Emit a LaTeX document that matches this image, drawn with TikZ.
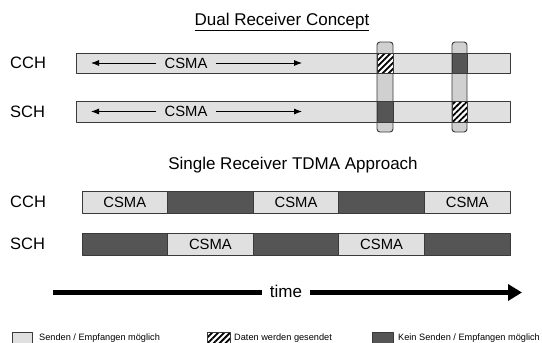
\documentclass[tikz,border=0pt]{standalone}
\usepackage{fontspec}
\setmainfont{Liberation Sans}
\usetikzlibrary{arrows.meta,patterns.meta}

\definecolor{freegray}{HTML}{E0E0E0}
\definecolor{colgray}{HTML}{D0D0D0}
\definecolor{busygray}{HTML}{555555}
\definecolor{edgegray}{HTML}{3A3A3A}

\tikzset{
  chan/.style={draw=edgegray,line width=0.9pt},
  freeslot/.style={chan,fill=freegray},
  busyslot/.style={chan,fill=busygray},
  dataslot/.style={chan,preaction={fill=white},
    pattern={Lines[angle=45,distance=4.2pt,line width=1.8pt]}},
  rxcolumn/.style={chan,fill=colgray,rounded corners=3pt},
  headline/.style={font=\fontsize{17}{20}\selectfont},
  chname/.style={anchor=west,inner sep=0pt,font=\fontsize{16.5}{19}\selectfont},
  csma/.style={inner ysep=0pt,inner xsep=8pt,font=\fontsize{14.8}{17}\selectfont},
  csmaarrow/.style={line width=0.8pt,-{Latex[length=8pt,width=6pt]}},
  timeline/.style={line width=5pt},
  legendtext/.style={anchor=base west,inner sep=0pt,font=\fontsize{9.2}{11}\selectfont}
}

\begin{document}
\begin{tikzpicture}[x=1pt,y=-1pt,line join=round]
  \useasboundingbox (0,0) rectangle (542,343);
  \clip (0,0) rectangle (542,343);

  % dual receiver concept
  \node[headline] (dualtitle) at (282,22) {\underline{Dual Receiver Concept}};
  \node[chname] (dualcch) at (10,63) {CCH};
  \node[chname] (dualsch) at (10,111.5) {SCH};
  \draw[freeslot] (76.5,53) rectangle (510,73);
  \draw[freeslot] (76.5,101) rectangle (510,122);
  \foreach \y/\nm in {63/cch,111.5/sch}{
    \node[csma] (csma\nm) at (186,\y) {CSMA};
    \coordinate (\nm left) at (91,\y);
    \coordinate (\nm right) at (302,\y);
    \draw[csmaarrow] (csma\nm.west) -- (\nm left);
    \draw[csmaarrow] (csma\nm.east) -- (\nm right);
  }
  \draw[rxcolumn] (377,42) rectangle (393,132);
  \draw[rxcolumn] (452,42) rectangle (467,132);
  \draw[dataslot] (377,53) rectangle (393,73);
  \draw[busyslot] (377,101) rectangle (393,122);
  \draw[busyslot] (452,53) rectangle (467,73);
  \draw[dataslot] (452,101) rectangle (467,122);

  % single receiver tdma approach
  \node[headline] (tdmatitle) at (293,165) {Single Receiver TDMA Approach};
  \node[chname] (tdmacch) at (10,202) {CCH};
  \node[chname] (tdmasch) at (10,244) {SCH};
  \foreach \i in {0,...,4}{
    \pgfmathsetmacro\xa{82+85.6*\i}
    \pgfmathsetmacro\xb{\xa+85.6}
    \pgfmathsetmacro\xm{\xa+42.8}
    \ifodd\i
      \draw[busyslot] (\xa,191) rectangle (\xb,213);
      \draw[freeslot] (\xa,233) rectangle (\xb,255);
      \node[csma] (schslot\i) at (\xm,244) {CSMA};
    \else
      \draw[freeslot] (\xa,191) rectangle (\xb,213);
      \draw[busyslot] (\xa,233) rectangle (\xb,255);
      \node[csma] (cchslot\i) at (\xm,202) {CSMA};
    \fi
  }

  % time axis
  \node[headline,inner xsep=7.5pt] (time) at (286,291) {time};
  \coordinate (tstart) at (53,292.5);
  \coordinate (tend) at (522,292.5);
  \draw[timeline] (tstart) -- (tstart -| time.west);
  \draw[timeline,-{Triangle[length=14pt,width=16pt]}] (tend -| time.east) -- (tend);

  % legend
  \draw[freeslot] (12,332) rectangle (32,352);
  \node[legendtext] (lgfree) at (39,340.5) {Senden / Empfangen möglich};
  \draw[dataslot] (207,332) rectangle (230,352);
  \node[legendtext] (lgdata) at (234,340.5) {Daten werden gesendet};
  \draw[busyslot] (372,332) rectangle (393,352);
  \node[legendtext] (lgbusy) at (398,340.5) {Kein Senden / Empfangen möglich};
\end{tikzpicture}
\end{document}
